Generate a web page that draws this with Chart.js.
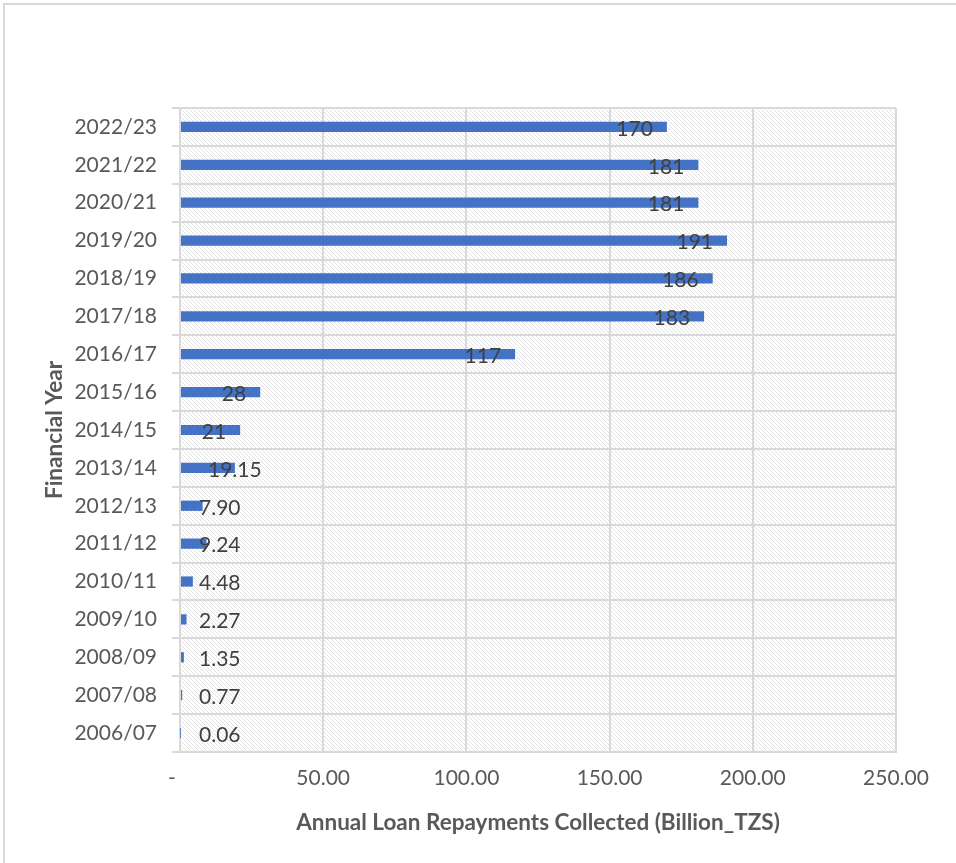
<!DOCTYPE html>
<html>
<head>
<meta charset="utf-8">
<title>Annual Loan Repayments Collected</title>
<script src="https://cdn.jsdelivr.net/npm/chart.js@4.4.1/dist/chart.umd.min.js"></script>
<style>
  html, body { margin: 0; padding: 0; background: #fff; overflow: hidden; }
  #frame { position: absolute; left: 3px; top: 3px; width: 1000px; height: 900px;
           border-top: 2px solid #d9d9d9; border-left: 2px solid #d9d9d9; }
  #wrap { position: absolute; left: 0; top: 0; width: 956px; height: 863px; }
</style>
</head>
<body>
<div id="frame"></div>
<div id="wrap"><canvas id="chart" width="956" height="863"></canvas></div>
<script>
  // financial years, oldest first (drawn bottom-up)
  const years = [
    "2006/07", "2007/08", "2008/09", "2009/10", "2010/11", "2011/12",
    "2012/13", "2013/14", "2014/15", "2015/16", "2016/17", "2017/18",
    "2018/19", "2019/20", "2020/21", "2021/22", "2022/23"
  ];
  // repayments collected, billion TZS
  const repayments = [
    0.06, 0.77, 1.35, 2.27, 4.48, 9.24,
    7.90, 19.15, 21, 28, 117, 183,
    186, 191, 181, 181, 170
  ];
  const xTicks = [0, 50, 100, 150, 200, 250];

  const FONT = "Lato, 'Open Sans', sans-serif";
  const GRID = "#d9d9d9";

  const fmtValue = (v) => (v >= 20 ? String(Math.round(v)) : v.toFixed(2));

  // light downward-diagonal fill behind the plot area
  function hatchPattern(ctx) {
    const tile = document.createElement("canvas");
    tile.width = 8; tile.height = 8;
    const t = tile.getContext("2d");
    t.fillStyle = "#fff";
    t.fillRect(0, 0, 8, 8);
    t.fillStyle = "#e3e3e3";
    for (let y = 0; y < 8; y++) {
      for (let x = 0; x < 8; x++) {
        if (((x - y) % 4 + 4) % 4 === 0) t.fillRect(x, y, 1, 1);
      }
    }
    return ctx.createPattern(tile, "repeat");
  }

  const hatch = {
    id: "hatch",
    beforeDraw(chart) {
      const { ctx, chartArea: { left, top, right, bottom } } = chart;
      ctx.save();
      ctx.fillStyle = hatchPattern(ctx);
      ctx.fillRect(left, top, right - left, bottom - top);
      ctx.restore();
    },
  };

  // value labels near the bar end, pushed right when the bar is too short
  const valueLabels = {
    id: "valueLabels",
    afterDatasetsDraw(chart) {
      const { ctx, chartArea: { left } } = chart;
      const meta = chart.getDatasetMeta(0);
      ctx.save();
      ctx.font = "21px " + FONT;
      ctx.fillStyle = "#404040";
      ctx.textAlign = "left";
      ctx.textBaseline = "middle";
      meta.data.forEach((bar, i) => {
        const text = fmtValue(repayments[i]);
        const w = ctx.measureText(text).width;
        const len = bar.x - left;
        let x;
        if (w + 20 < len) x = bar.x - 14 - w;
        else x = Math.max(left + 19, bar.x - w / 2);
        ctx.fillText(text, x, bar.y + 2);
      });
      ctx.restore();
    },
  };

  new Chart(document.getElementById("chart"), {
    type: "bar",
    data: {
      labels: years,
      datasets: [{
        data: repayments,
        backgroundColor: "#4472c4",
        borderWidth: 0,
        categoryPercentage: 1,
        barPercentage: 0.27,
      }],
    },
    options: {
      indexAxis: "y",
      responsive: false,
      animation: false,
      layout: { padding: { top: 108, right: 60, left: 0, bottom: 0 } },
      plugins: { legend: { display: false }, tooltip: { enabled: false } },
      scales: {
        x: {
          min: 0, max: 250,
          afterBuildTicks: (s) => { s.ticks = xTicks.map((v) => ({ value: v })); },
          afterFit: (s) => { s.height = 111; },
          ticks: {
            color: "#595959",
            font: { family: FONT, size: 21 },
            padding: 14,
            maxRotation: 0,
            callback: (v) => (v === 0 ? "-   " : v.toFixed(2)),
          },
          grid: { color: GRID, lineWidth: 2, drawTicks: false },
          border: { color: GRID, width: 2 },
          title: {
            display: true,
            text: "Annual Loan Repayments Collected (Billion_TZS)",
            color: "#595959",
            font: { family: FONT, size: 22.5, weight: "bold" },
            padding: { top: 0, bottom: 27 },
          },
        },
        y: {
          reverse: true,
          afterFit: (s) => { s.width = 180; },
          ticks: {
            color: "#595959",
            font: { family: FONT, size: 21 },
            padding: 15,
          },
          grid: { color: GRID, lineWidth: 2, tickLength: 8, offset: true },
          border: { color: GRID, width: 2 },
          title: {
            display: true,
            text: "Financial Year",
            color: "#595959",
            font: { family: FONT, size: 22.5, weight: "bold" },
            padding: { top: 41, bottom: 0 },
          },
        },
      },
    },
    plugins: [hatch, valueLabels],
  });
</script>
</body>
</html>
